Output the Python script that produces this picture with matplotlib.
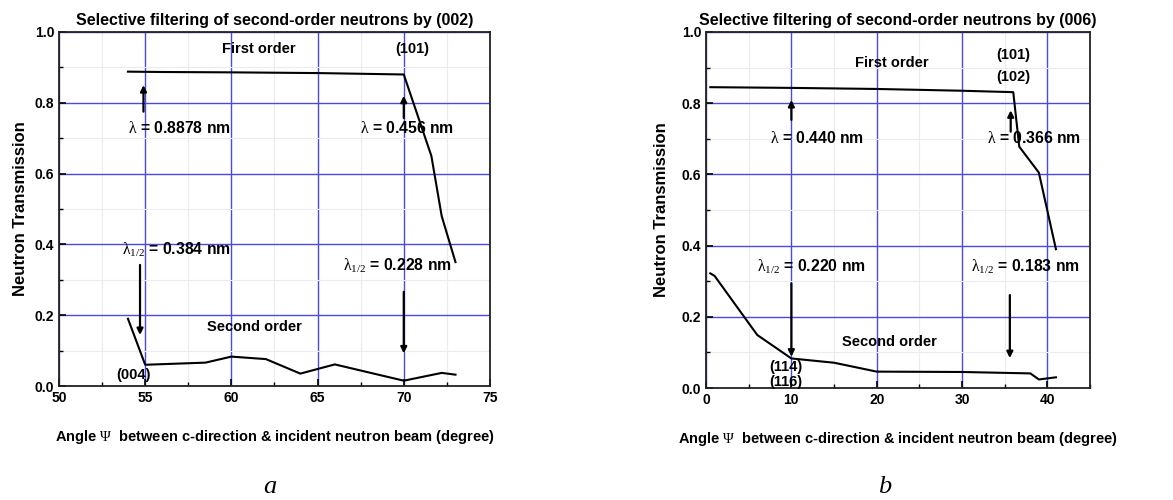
import matplotlib.pyplot as plt
from matplotlib.ticker import MultipleLocator

plt.rcParams['font.family'] = ['Liberation Sans', 'DejaVu Sans']
plt.rcParams['mathtext.fontset'] = 'custom'
plt.rcParams['mathtext.rm'] = 'Liberation Serif'
plt.rcParams['mathtext.it'] = 'Liberation Serif:italic'

# panel a: filtering by (002)
a_first_x = [54, 56, 60, 65, 70, 71.6, 72.2, 73]
a_first_y = [0.888, 0.887, 0.886, 0.884, 0.880, 0.65, 0.48, 0.35]
a_second_x = [54, 55, 58.5, 60, 62, 64, 66, 70, 72.2, 73]
a_second_y = [0.19, 0.06, 0.066, 0.083, 0.076, 0.035, 0.061, 0.015, 0.037, 0.032]

# panel b: filtering by (006)
b_first_x = [0.5, 10, 20, 30, 36, 36.7, 39, 41]
b_first_y = [0.845, 0.843, 0.840, 0.835, 0.831, 0.678, 0.605, 0.39]
b_second_x = [0.5, 1, 6, 10, 15, 20, 30, 38, 39, 41]
b_second_y = [0.322, 0.315, 0.149, 0.083, 0.071, 0.046, 0.045, 0.041, 0.024, 0.030]

fig = plt.figure(figsize=(11.73, 5), dpi=100)
ax1 = fig.add_axes([0.0503, 0.228, 0.3674, 0.708])
ax2 = fig.add_axes([0.6019, 0.224, 0.3274, 0.712])

grid_blue = '#4a4ae0'
xlabel = r"Angle $\mathrm{\Psi}$  between c-direction & incident neutron beam (degree)"


def style(ax, xlim, xmaj, xmin, title, ypad):
    ax.set_xlim(*xlim)
    ax.set_ylim(0, 1.0)
    ax.xaxis.set_major_locator(MultipleLocator(xmaj))
    ax.xaxis.set_minor_locator(MultipleLocator(xmin))
    ax.yaxis.set_major_locator(MultipleLocator(0.2))
    ax.yaxis.set_minor_locator(MultipleLocator(0.1))
    ax.grid(which='minor', color='#ececec', lw=0.8)
    ax.grid(which='major', color=grid_blue, lw=1.0)
    ax.set_axisbelow(True)
    ax.tick_params(which='both', direction='in', top=False, right=False)
    ax.tick_params(which='major', length=5, width=1.2, labelsize=10)
    ax.tick_params(which='minor', length=3, width=1.0)
    for lab in ax.get_xticklabels() + ax.get_yticklabels():
        lab.set_fontweight('bold')
    for s in ax.spines.values():
        s.set_linewidth(1.3)
        s.set_color('#222222')
    ax.set_title(title, fontsize=11.5, fontweight='bold', pad=5)
    ax.set_ylabel('Neutron Transmission', fontsize=12, fontweight='bold', labelpad=ypad)
    ax.set_xlabel(xlabel, fontsize=10.5, fontweight='bold', labelpad=17)


def arrow(ax, x, y0, y1):
    ax.annotate('', xy=(x, y1), xytext=(x, y0),
                arrowprops=dict(arrowstyle='-|>', color='black', lw=1.6,
                                mutation_scale=9, shrinkA=0, shrinkB=0))


tkw = dict(fontsize=10.5, fontweight='bold', ha='center', va='center')
lkw = dict(fontsize=11.3, fontweight='bold', ha='center', va='center')

# ---- panel a
style(ax1, (50, 75), 5, 2.5, 'Selective filtering of second-order neutrons by (002)', 5)
ax1.plot(a_first_x, a_first_y, color='black', lw=1.5)
ax1.plot(a_second_x, a_second_y, color='black', lw=1.5)
ax1.text(61.6, 0.952, 'First order', **tkw)
ax1.text(70.5, 0.952, '(101)', **tkw)
ax1.text(57.0, 0.729, r'$\mathrm{\lambda}$ = 0.8878 nm', **lkw)
ax1.text(70.2, 0.729, r'$\mathrm{\lambda}$ = 0.456 nm', **lkw)
arrow(ax1, 54.9, 0.775, 0.85)
arrow(ax1, 70.0, 0.757, 0.82)
ax1.text(56.8, 0.386, r'$\mathrm{\lambda}_{1/2}$ = 0.384 nm', **lkw)
ax1.text(69.6, 0.34, r'$\mathrm{\lambda}_{1/2}$ = 0.228 nm', **lkw)
arrow(ax1, 54.7, 0.342, 0.144)
arrow(ax1, 70.0, 0.266, 0.092)
ax1.text(61.35, 0.166, 'Second order', **tkw)
ax1.text(54.3, 0.031, '(004)', **tkw)

# ---- panel b
style(ax2, (0, 45), 10, 5, 'Selective filtering of second-order neutrons by (006)', 9)
ax2.plot(b_first_x, b_first_y, color='black', lw=1.5)
ax2.plot(b_second_x, b_second_y, color='black', lw=1.5)
ax2.text(21.8, 0.912, 'First order', **tkw)
ax2.text(36.0, 0.935, '(101)', **tkw)
ax2.text(36.0, 0.874, '(102)', **tkw)
ax2.text(13.0, 0.701, r'$\mathrm{\lambda}$ = 0.440 nm', **lkw)
ax2.text(38.4, 0.701, r'$\mathrm{\lambda}$ = 0.366 nm', **lkw)
arrow(ax2, 10.0, 0.753, 0.809)
arrow(ax2, 35.7, 0.72, 0.78)
ax2.text(12.4, 0.34, r'$\mathrm{\lambda}_{1/2}$ = 0.220 nm', **lkw)
ax2.text(37.4, 0.34, r'$\mathrm{\lambda}_{1/2}$ = 0.183 nm', **lkw)
arrow(ax2, 10.0, 0.294, 0.088)
arrow(ax2, 35.6, 0.261, 0.084)
ax2.text(21.5, 0.13, 'Second order', **tkw)
ax2.text(9.3, 0.06, '(114)', **tkw)
ax2.text(9.3, 0.018, '(116)', **tkw)

fig.text(270 / 1173, 1 - 487 / 500, 'a', fontsize=19, style='italic',
         family='Liberation Serif', ha='center', va='center')
fig.text(885 / 1173, 1 - 487 / 500, 'b', fontsize=19, style='italic',
         family='Liberation Serif', ha='center', va='center')

fig.savefig('out.png', dpi=100)
